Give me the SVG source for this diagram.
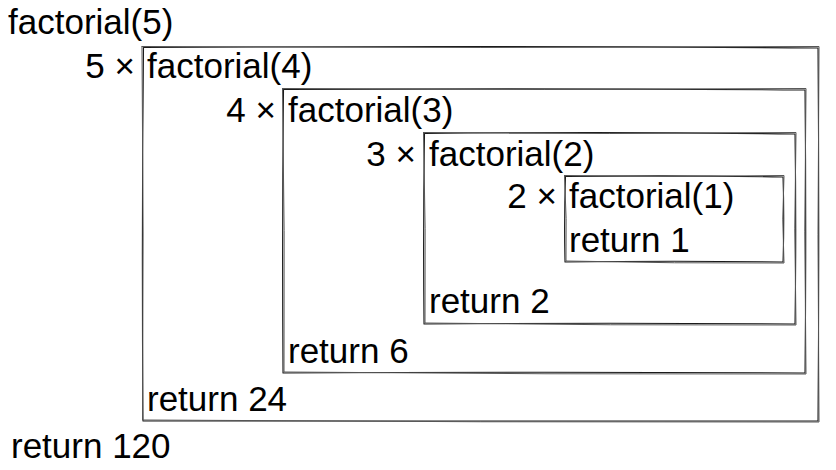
<svg xmlns="http://www.w3.org/2000/svg" width="836" height="470" viewBox="0 0 836 470">
<style>
text{font-family:"Liberation Sans",Arial,sans-serif;font-size:35px;fill:#000}
.mul{text-anchor:end}
.s1{fill:none;stroke:#1a1a1a;stroke-width:1.1;stroke-linecap:round;stroke-linejoin:round}
.s2{fill:none;stroke:#555;stroke-width:1;stroke-linecap:round;stroke-linejoin:round}
</style>
<rect width="836" height="470" fill="#fff"/>
<g id="call5">
<text x="8" y="34">factorial(5)</text>
<text x="11" y="458">return 120</text>
</g>
<g id="call4">
<path class="s1" d="M143.5,47.5 Q480,45.5 818,48 Q819.5,235 818,421 Q480,419.5 143,421 Q141.5,235 143.5,47.5"/>
<path class="s2" d="M142,46.5 Q480,48.5 819,46.5 Q817,235 819,422 Q480,422.5 142.5,420 Q144,235 142,46.5"/>
<text class="mul" x="135" y="78">5 ×</text>
<text x="147" y="78">factorial(4)</text>
<text x="147" y="411">return 24</text>
</g>
<g id="call3">
<path class="s1" d="M283.5,89.5 Q545,88 805,90 Q806.5,231 805,373 Q545,371.5 283,373 Q282,231 283.5,89.5"/>
<path class="s2" d="M282.5,88.5 Q545,90.5 806,88.5 Q803.5,231 806,374 Q545,374.5 284,372 Q285,231 282.5,88.5"/>
<text class="mul" x="276" y="122">4 ×</text>
<text x="288" y="122">factorial(3)</text>
<text x="288" y="363">return 6</text>
</g>
<g id="call2">
<path class="s1" d="M424.5,133.5 Q610,131.5 795,134 Q796.5,229 795,324 Q610,322.5 424,324 Q423,229 424.5,133.5"/>
<path class="s2" d="M423.5,132.5 Q610,134.5 796,132.5 Q793.5,229 796,325 Q610,325.5 425,323 Q426,229 423.5,132.5"/>
<text class="mul" x="416" y="166">3 ×</text>
<text x="429" y="166">factorial(2)</text>
<text x="429" y="313">return 2</text>
</g>
<g id="call1">
<path class="s1" d="M565.5,176.5 Q674,175 783,177 Q784.5,219 783,262 Q674,260.5 565,262 Q564,219 565.5,176.5"/>
<path class="s2" d="M564.5,175.5 Q674,177.5 784,175.5 Q781.5,219 784,263 Q674,263.5 566,261 Q567,219 564.5,175.5"/>
<text class="mul" x="557" y="208">2 ×</text>
<text x="569" y="208">factorial(1)</text>
<text x="569" y="252">return 1</text>
</g>
<g id="connectors"></g>
</svg>
